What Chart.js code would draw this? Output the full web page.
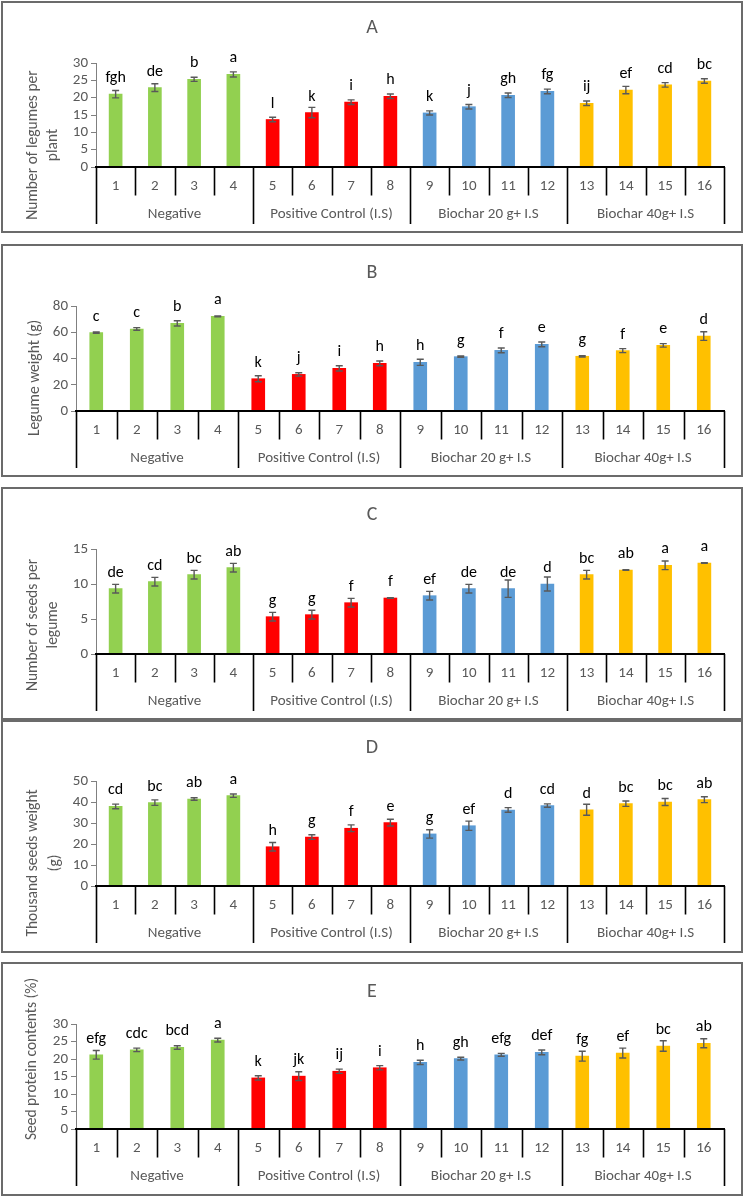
<!DOCTYPE html>
<html><head><meta charset="utf-8">
<script src="https://cdn.jsdelivr.net/npm/chart.js@4.4.0/dist/chart.umd.min.js"></script>
<style>
html,body{margin:0;padding:0;background:#fff;}
#wrap{position:relative;width:744px;height:1197px;overflow:hidden;background:#fff;}
#wrap canvas{position:absolute;left:0;}
.box{position:absolute;border:2px solid #6b6b6b;box-sizing:border-box;}
</style></head><body><div id="wrap"></div>
<script>
// ---------- data ----------
const categories = ['1','2','3','4','5','6','7','8','9','10','11','12','13','14','15','16'];
const groups = ['Negative','Positive Control (I.S)','Biochar 20 g+ I.S','Biochar 40g+ I.S'];
const categoryGroup = [0,0,0,0,1,1,1,1,2,2,2,2,3,3,3,3];

const legumesPerPlant      = [21.0,22.9,25.3,26.7,13.7,15.7,18.7,20.4,15.6,17.4,20.7,21.8,18.4,22.2,23.7,24.8];
const legumesPerPlantErr   = [1.05,1.1,0.6,0.75,0.65,1.5,0.65,0.65,0.6,0.65,0.65,0.65,0.65,1.05,0.65,0.65];
const legumesPerPlantSig   = ['fgh','de','b','a','l','k','i','h','k','j','gh','fg','ij','ef','cd','bc'];
const legumesPerPlantTicks = [0,5,10,15,20,25,30];

const legumeWeight      = [59.7,62.5,66.8,72.1,24.6,27.9,32.5,36.3,37.1,41.4,46.2,50.8,41.7,46.0,50.0,57.1];
const legumeWeightErr   = [0.5,1.0,2.0,0.4,2.3,1.3,2.0,1.8,2.3,0.5,1.8,1.8,0.5,1.5,1.3,3.3];
const legumeWeightSig   = ['c','c','b','a','k','j','i','h','h','g','f','e','g','f','e','d'];
const legumeWeightTicks = [0,20,40,60,80];

const seedsPerLegume      = [9.33,10.33,11.33,12.33,5.33,5.62,7.33,8.0,8.33,9.33,9.33,10.0,11.33,12.0,12.67,13.0];
const seedsPerLegumeErr   = [0.62,0.62,0.62,0.62,0.62,0.62,0.62,0.05,0.62,0.62,1.24,1.0,0.62,0.05,0.62,0.05];
const seedsPerLegumeSig   = ['de','cd','bc','ab','g','g','f','f','ef','de','de','d','bc','ab','a','a'];
const seedsPerLegumeTicks = [0,5,10,15];

const thousandSeedWeight      = [37.9,39.7,41.4,43.0,18.7,23.3,27.5,30.2,24.8,28.7,36.2,38.3,36.3,39.2,40.0,41.1];
const thousandSeedWeightErr   = [1.1,1.3,0.6,0.8,2.0,1.1,1.6,1.6,2.0,2.2,1.1,0.8,2.6,1.3,1.7,1.4];
const thousandSeedWeightSig   = ['cd','bc','ab','a','h','g','f','e','g','ef','d','cd','d','bc','bc','ab'];
const thousandSeedWeightTicks = [0,10,20,30,40,50];

const seedProtein      = [21.2,22.6,23.3,25.4,14.6,15.1,16.5,17.5,19.05,20.1,21.2,21.9,20.8,21.7,23.7,24.5];
const seedProteinErr   = [1.24,0.5,0.5,0.55,0.6,1.24,0.6,0.6,0.6,0.4,0.4,0.67,1.4,1.4,1.5,1.3];
const seedProteinSig   = ['efg','cdc','bcd','a','k','jk','ij','i','h','gh','efg','def','fg','ef','bc','ab'];
const seedProteinTicks = [0,5,10,15,20,25,30];

// ---------- styles / layout ----------
const FONT = 'Carlito, Lato, "Open Sans", sans-serif';
const groupColors = ['#92D050','#FF0000','#5B9BD5','#FFC000'];
const GREY = '#595959';

const panels = [
  {title:'A', yTitle:['Number of legumes per','plant'], values:legumesPerPlant, errors:legumesPerPlantErr, sig:legumesPerPlantSig, ticks:legumesPerPlantTicks,
   L:{boxTop:2, boxBottom:232, plotLeft:96, yTop:63, y0:167, titleY:28, yTitleX:[33,53], yTitleY:145}},
  {title:'B', yTitle:['Legume weight (g)'], values:legumeWeight, errors:legumeWeightErr, sig:legumeWeightSig, ticks:legumeWeightTicks,
   L:{boxTop:245, boxBottom:476, plotLeft:76, yTop:306, y0:411, titleY:273, yTitleX:[35], yTitleY:378}},
  {title:'C', yTitle:['Number of seeds per','legume'], values:seedsPerLegume, errors:seedsPerLegumeErr, sig:seedsPerLegumeSig, ticks:seedsPerLegumeTicks,
   L:{boxTop:488, boxBottom:721, plotLeft:96, yTop:549, y0:654, titleY:515, yTitleX:[33,53], yTitleY:625}},
  {title:'D', yTitle:['Thousand seeds weight','(g)'], values:thousandSeedWeight, errors:thousandSeedWeightErr, sig:thousandSeedWeightSig, ticks:thousandSeedWeightTicks,
   L:{boxTop:719, boxBottom:952, plotLeft:96, yTop:781, y0:886, titleY:748, yTitleX:[33,55], yTitleY:863}},
  {title:'E', yTitle:['Seed protein contents (%)'], values:seedProtein, errors:seedProteinErr, sig:seedProteinSig, ticks:seedProteinTicks,
   L:{boxTop:963, boxBottom:1195, plotLeft:76, yTop:1024, y0:1129, titleY:992, yTitleX:[32], yTitleY:1059}}
];
const PLOT_RIGHT = 724;
const ROW = {catLabel:19.5, sep:28.5, grpLabel:47.5, grp:57};

function decor(p){
  const L = p.L;
  return {
    id:'decor'+p.title,
    afterDatasetsDraw(chart){
      const ctx = chart.ctx, ys = chart.scales.y, meta = chart.getDatasetMeta(0);
      ctx.save();
      ctx.strokeStyle = GREY; ctx.lineWidth = 1.4;
      meta.data.forEach((bar,i)=>{
        const v = p.values[i], e = p.errors[i];
        const hi = ys.getPixelForValue(v+e), lo = ys.getPixelForValue(v-e);
        ctx.beginPath();
        ctx.moveTo(bar.x, hi); ctx.lineTo(bar.x, lo);
        ctx.moveTo(bar.x-3.5, hi); ctx.lineTo(bar.x+3.5, hi);
        ctx.moveTo(bar.x-3.5, lo); ctx.lineTo(bar.x+3.5, lo);
        ctx.stroke();
      });
      ctx.fillStyle = '#000'; ctx.font = '16px '+FONT;
      ctx.textAlign = 'center'; ctx.textBaseline = 'alphabetic';
      meta.data.forEach((bar,i)=>{ ctx.fillText(p.sig[i], bar.x, bar.y-12); });
      ctx.restore();
    },
    afterDraw(chart){
      const ctx = chart.ctx, xs = chart.scales.x, ys = chart.scales.y;
      const y0 = ys.getPixelForValue(0);
      const step = xs.getPixelForValue(1) - xs.getPixelForValue(0);
      const bound = i => xs.getPixelForValue(i) - step/2;
      ctx.save();
      ctx.strokeStyle = '#000'; ctx.lineWidth = 2;
      ctx.beginPath(); ctx.moveTo(bound(0)-1, y0); ctx.lineTo(bound(categories.length)+1, y0); ctx.stroke();
      ctx.lineWidth = 1.6;
      for(let i=0;i<=categories.length;i++){
        const isGroup = (i===0 || i===categories.length || categoryGroup[i]!==categoryGroup[i-1]);
        const x = Math.round(bound(i))+0.5;
        ctx.beginPath(); ctx.moveTo(x, y0); ctx.lineTo(x, y0 + (isGroup?ROW.grp:ROW.sep)); ctx.stroke();
      }
      ctx.fillStyle = GREY; ctx.font = '15px '+FONT; ctx.textAlign='center'; ctx.textBaseline='middle';
      categories.forEach((c,i)=>ctx.fillText(c, xs.getPixelForValue(i), y0+ROW.catLabel));
      groups.forEach((g,gi)=>{
        const idx = categoryGroup.map((v,i)=>v===gi?i:-1).filter(i=>i>=0);
        const cx = (bound(idx[0]) + bound(idx[idx.length-1]+1))/2;
        ctx.fillText(g, cx, y0+ROW.grpLabel);
      });
      ctx.font = '20px '+FONT; ctx.fillText(p.title, 372, L.titleY - L.boxTop);
      ctx.font = '15.5px '+FONT;
      p.yTitle.forEach((t,k)=>{
        ctx.save(); ctx.translate(L.yTitleX[k], L.yTitleY - L.boxTop); ctx.rotate(-Math.PI/2);
        ctx.fillText(t, 0, 0); ctx.restore();
      });
      ctx.restore();
    }
  };
}

const wrap = document.getElementById('wrap');
panels.forEach(p=>{
  const L = p.L;
  const box = document.createElement('div');
  box.className='box';
  box.style.left='1px'; box.style.width='742px';
  box.style.top=(L.boxTop-1)+'px'; box.style.height=(L.boxBottom-L.boxTop+2)+'px';
  wrap.appendChild(box);
  const cv = document.createElement('canvas');
  const H = L.boxBottom - L.boxTop;
  cv.width = 744; cv.height = H;
  cv.style.top = L.boxTop+'px'; cv.style.width='744px'; cv.style.height=H+'px';
  wrap.appendChild(cv);
  new Chart(cv, {
    type:'bar',
    data:{labels:categories, datasets:[{data:p.values, backgroundColor:categoryGroup.map(g=>groupColors[g]), borderWidth:0, barThickness:13}]},
    options:{
      responsive:false, animation:false, devicePixelRatio:1,
      layout:{padding:{left:0, right:744-PLOT_RIGHT, top:L.yTop-L.boxTop, bottom:L.boxBottom-L.y0}},
      plugins:{legend:{display:false}, tooltip:{enabled:false}, title:{display:false}},
      scales:{
        x:{display:false},
        y:{min:0, max:p.ticks[p.ticks.length-1],
           afterBuildTicks:ax=>{ax.ticks=p.ticks.map(v=>({value:v}));},
           afterFit:ax=>{ax.width=L.plotLeft;},
           ticks:{color:GREY, font:{family:FONT, size:15}, padding:3, autoSkip:false},
           grid:{drawOnChartArea:false, drawTicks:true, tickLength:5, color:'#808080', lineWidth:1},
           border:{display:true, color:'#808080', width:1}}
      }
    },
    plugins:[decor(p)]
  });
});
</script></body></html>
